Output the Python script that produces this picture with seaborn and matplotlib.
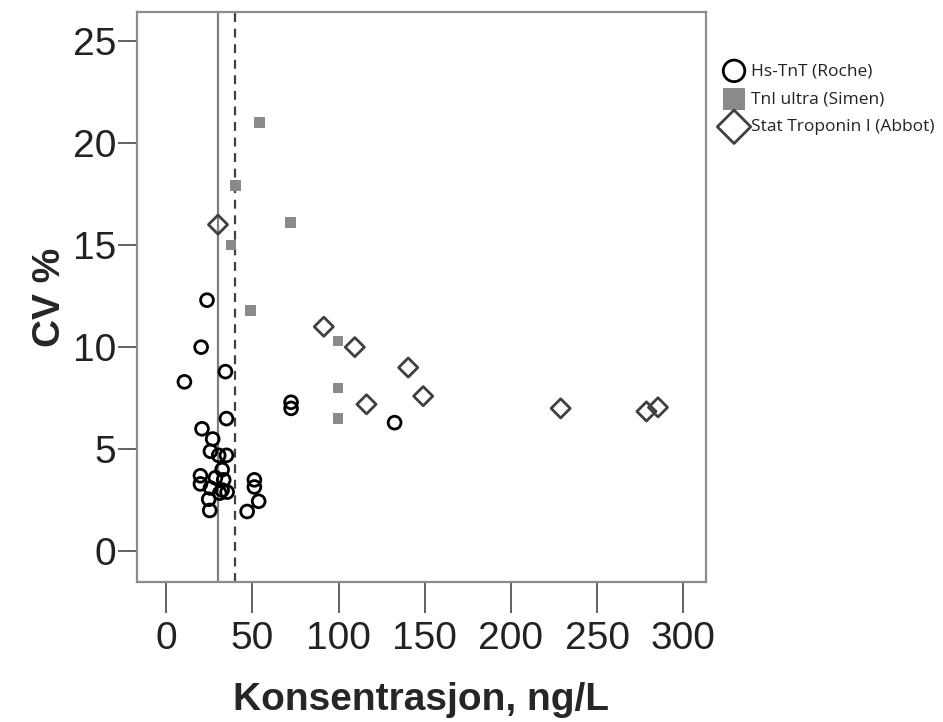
import matplotlib
matplotlib.use("Agg")
import matplotlib.pyplot as plt
import seaborn as sns
import pandas as pd

# Hs-TnT (Roche)
roche_x = [23.6, 20.2, 34.3, 10.5, 34.9, 20.7, 26.9, 25.6, 30.4, 34.9,
           32.4, 19.8, 28.5, 33.3, 19.8, 25.6, 32.4, 31.0, 35.3, 24.6,
           25.2, 51.1, 51.1, 53.6, 46.9, 72.4, 72.4, 132.5]
roche_y = [12.3, 10.0, 8.8, 8.3, 6.5, 6.0, 5.5, 4.9, 4.7, 4.7,
           4.0, 3.7, 3.6, 3.5, 3.3, 3.1, 3.0, 2.85, 2.9, 2.55,
           2.0, 3.5, 3.15, 2.45, 1.95, 7.3, 7.0, 6.3]

# TnI ultra (Simen)
simen_x = [53.9, 40.3, 71.9, 37.6, 48.8, 99.7, 99.7, 99.7]
simen_y = [21.0, 17.9, 16.1, 15.0, 11.8, 10.3, 8.0, 6.5]

# Stat Troponin I (Abbot)
abbot_x = [30.0, 91.4, 109.4, 140.4, 149.1, 116.2, 228.9, 278.7, 285.4]
abbot_y = [16.0, 11.0, 10.0, 9.0, 7.6, 7.2, 7.0, 6.85, 7.05]

x_ticks = [0, 50, 100, 150, 200, 250, 300]
y_ticks = [0, 5, 10, 15, 20, 25]
cutoff_solid = 30
cutoff_dashed = 40

sns.set_style("white")
plt.rcParams["font.family"] = ["Liberation Sans", "DejaVu Sans"]

roche = pd.DataFrame({"konsentrasjon": roche_x, "cv": roche_y})
simen = pd.DataFrame({"konsentrasjon": simen_x, "cv": simen_y})
abbot = pd.DataFrame({"konsentrasjon": abbot_x, "cv": abbot_y})

fig = plt.figure(figsize=(9.43, 7.22), dpi=100)
ax = fig.add_axes([0.1457, 0.194, 0.6025, 0.789])

ax.axvline(cutoff_solid, color="#808080", lw=1.6, zorder=1)
ax.axvline(cutoff_dashed, color="#404040", lw=1.6, ls=(0, (4, 3)), zorder=1)

sns.scatterplot(data=roche, x="konsentrasjon", y="cv", ax=ax, marker="o", s=85,
                facecolor="none", edgecolor="black", linewidth=2.0,
                label="Hs-TnT (Roche)", zorder=3)
sns.scatterplot(data=simen, x="konsentrasjon", y="cv", ax=ax, marker="s", s=60,
                color="#8a8a8a", edgecolor="none", linewidth=0,
                label="TnI ultra (Simen)", zorder=3)
sns.scatterplot(data=abbot, x="konsentrasjon", y="cv", ax=ax, marker="D", s=95,
                facecolor="none", edgecolor="#404040", linewidth=2.0,
                label="Stat Troponin I (Abbot)", zorder=3)

ax.set_xlim(-16.8, 313)
ax.set_ylim(-1.5, 26.4)
ax.set_xticks(x_ticks)
ax.set_yticks(y_ticks)

for sp in ax.spines.values():
    sp.set_color("#8c8c8c")
    sp.set_linewidth(1.6)

ax.tick_params(axis="x", direction="out", length=22, width=1.3, color="#555555",
               labelsize=28, labelcolor="#222222", pad=6, bottom=True)
ax.tick_params(axis="y", direction="out", length=14, width=1.3, color="#555555",
               labelsize=28, labelcolor="#222222", pad=1, left=True)

ax.set_xlabel("Konsentrasjon, ng/L", fontsize=28, fontweight="bold", labelpad=18)
ax.set_ylabel("CV %", fontsize=28, fontweight="bold", labelpad=4)

leg = ax.legend(loc="upper left", bbox_to_anchor=(0.76, 0.922), bbox_transform=fig.transFigure,
                frameon=False, handletextpad=0.4, labelspacing=0.68,
                borderaxespad=0, handlelength=1.2,
                prop={"family": ["Open Sans", "DejaVu Sans"], "size": 12.5})
for handle, size in zip(leg.legend_handles, [240, 250, 290]):
    handle.set_sizes([size])
for t in leg.get_texts():
    t.set_color("#222222")

fig.savefig("out.png", dpi=100)
